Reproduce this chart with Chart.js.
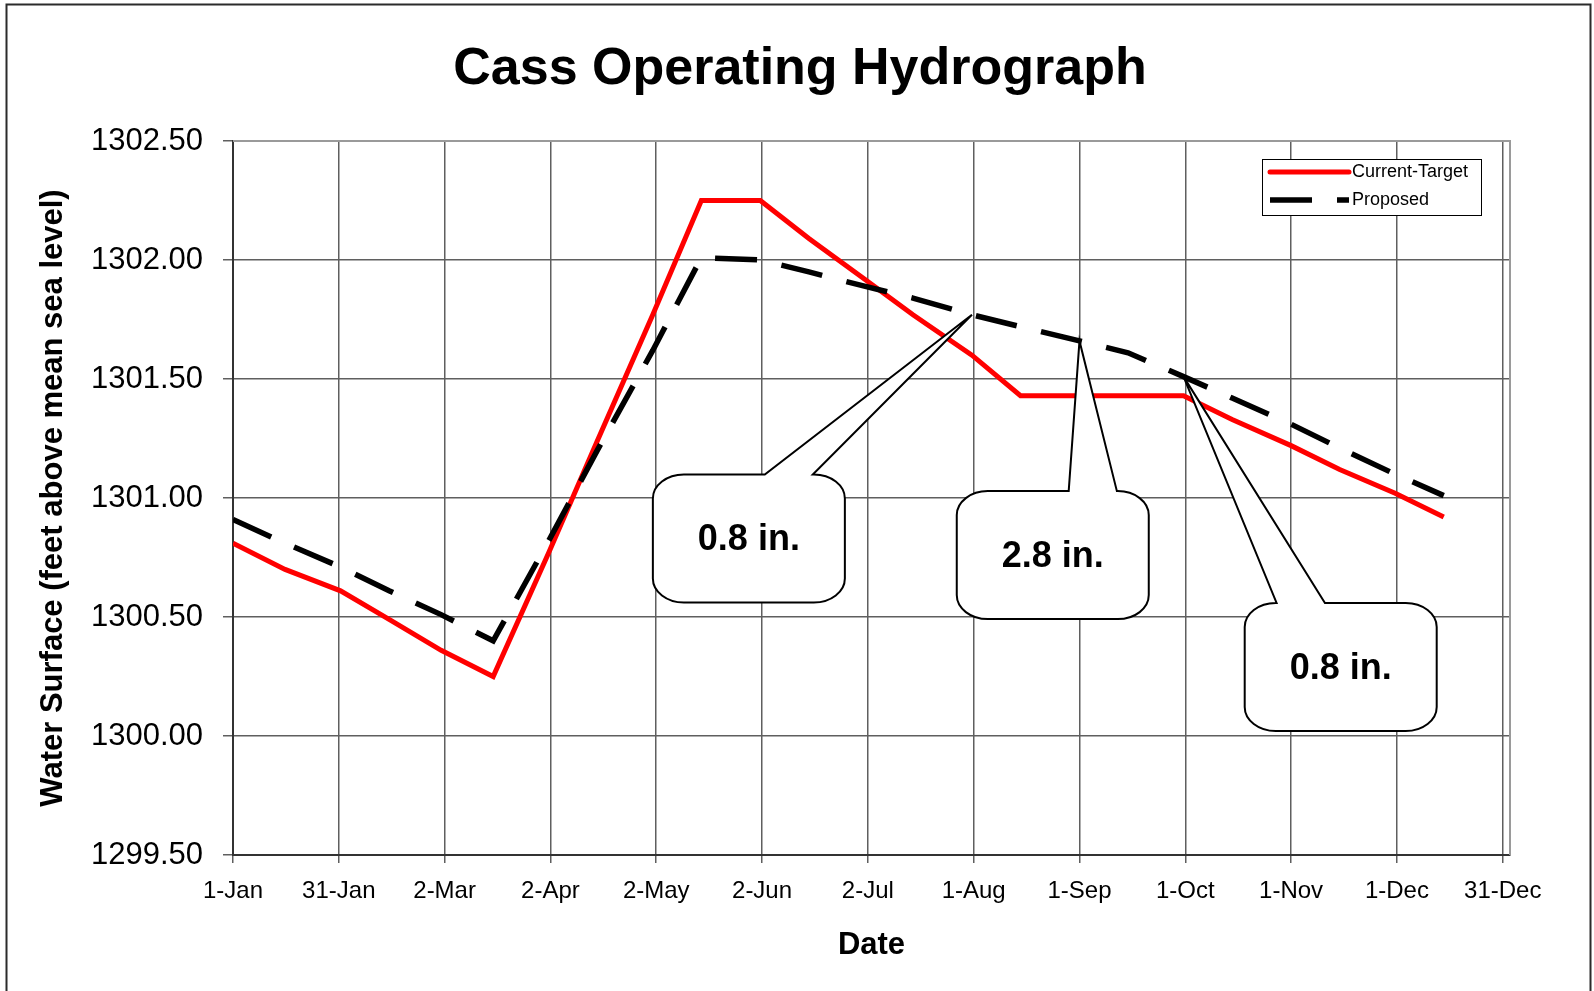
<!DOCTYPE html>
<html>
<head>
<meta charset="utf-8">
<title>Cass Operating Hydrograph</title>
<script src="https://cdn.jsdelivr.net/npm/chart.js@4.4.1/dist/chart.umd.min.js"></script>
<style>
  html, body { margin: 0; padding: 0; background: #fff; }
  canvas { display: block; }
</style>
</head>
<body>
<canvas id="hydrograph" width="1594" height="991"></canvas>
<script>
/**
 * Data
 */
// Semi-monthly dates and their day number counted from 1-Jan
const dates = [
  "1-Jan", "16-Jan", "1-Feb", "15-Feb", "1-Mar", "16-Mar",
  "1-Apr", "15-Apr", "1-May", "15-May", "1-Jun", "15-Jun",
  "1-Jul", "15-Jul", "1-Aug", "15-Aug", "1-Sep", "15-Sep",
  "1-Oct", "15-Oct", "1-Nov", "15-Nov", "1-Dec", "15-Dec",
];
const days = [
  0, 15, 31, 45, 60, 75, 91, 105, 121, 135, 152, 166,
  182, 196, 213, 227, 244, 258, 274, 288, 305, 319, 335, 349,
];

// Water surface elevation (feet above mean sea level)
const currentTarget = [
  1300.81, 1300.70, 1300.61, 1300.49, 1300.36, 1300.25,
  1300.77, 1301.24, 1301.77, 1302.25, 1302.25, 1302.09,
  1301.92, 1301.77, 1301.60, 1301.43, 1301.43, 1301.43,
  1301.43, 1301.33, 1301.22, 1301.12, 1301.02, 1300.92,
];
const proposed = [
  1300.91, 1300.81, 1300.71, 1300.61, 1300.51, 1300.40,
  1300.82, 1301.20, 1301.62, 1302.01, 1302.00, 1301.95,
  1301.89, 1301.84, 1301.77, 1301.72, 1301.66, 1301.61,
  1301.51, 1301.42, 1301.31, 1301.21, 1301.10, 1301.01,
];

// Axis ticks
const xTickLabels = [
  "1-Jan", "31-Jan", "2-Mar", "2-Apr", "2-May", "2-Jun", "2-Jul",
  "1-Aug", "1-Sep", "1-Oct", "1-Nov", "1-Dec", "31-Dec",
];
const xTickStep = 30.5;
const yTicks = [1299.5, 1300.0, 1300.5, 1301.0, 1301.5, 1302.0, 1302.5];

// Callouts pointing at the Proposed curve
const calloutLabels = ["0.8 in.", "2.8 in.", "0.8 in."];
const calloutDates = ["1-Aug", "1-Sep", "1-Oct"];

/**
 * Layout of the callout boxes (box centre in axis units, pointer base as share of width)
 */
const calloutBoxes = [
  { day: 148.7, level: 1300.83, base: [0.583, 0.833] },
  { day: 236.3, level: 1300.76, base: [0.583, 0.834] },
  { day: 319.3, level: 1300.29, base: [0.166, 0.418] },
];

const FONT = "'Liberation Sans', Arial, Helvetica, sans-serif";
const GRID = "#5f5f5f";

// Background, outer frame, title and top/right plot border
const framePlugin = {
  id: "frame",
  beforeDraw(chart) {
    const { ctx, width, height } = chart;
    ctx.save();
    ctx.fillStyle = "#fff";
    ctx.fillRect(0, 0, width, height);
    ctx.strokeStyle = "#2b2b2b";
    ctx.lineWidth = 2;
    ctx.strokeRect(6.5, 4.5, width - 10, height + 20);
    ctx.fillStyle = "#000";
    ctx.font = "bold 52px " + FONT;
    ctx.textAlign = "center";
    ctx.textBaseline = "middle";
    ctx.fillText("Cass Operating Hydrograph", width / 2 + 3, 70);
    ctx.restore();
  },
  beforeDatasetsDraw(chart) {
    const { ctx, chartArea: a } = chart;
    ctx.save();
    ctx.strokeStyle = "#9a9a9a";
    ctx.lineWidth = 2;
    ctx.beginPath();
    ctx.moveTo(a.left, a.top);
    ctx.lineTo(a.right, a.top);
    ctx.lineTo(a.right, a.bottom);
    ctx.stroke();
    ctx.restore();
  },
};

// Legend box in the upper right of the plot
const legendPlugin = {
  id: "boxLegend",
  afterDatasetsDraw(chart) {
    const { ctx, chartArea: a } = chart;
    const sets = chart.data.datasets;
    const left = a.right - 248, top = a.top + 18;
    ctx.save();
    ctx.fillStyle = "#fff";
    ctx.fillRect(left, top, 219, 56);
    ctx.strokeStyle = "#000";
    ctx.lineWidth = 1;
    ctx.strokeRect(left + 0.5, top + 0.5, 219, 56);
    sets.forEach((ds, i) => {
      const yy = top + 13 + i * 28;
      ctx.beginPath();
      ctx.strokeStyle = ds.borderColor;
      ctx.lineWidth = ds.borderWidth;
      ctx.lineCap = ds.borderDash ? "butt" : "round";
      ctx.setLineDash(ds.borderDash || []);
      ctx.moveTo(left + 8, yy);
      ctx.lineTo(left + 87, yy);
      ctx.stroke();
      ctx.setLineDash([]);
      ctx.fillStyle = "#000";
      ctx.font = "18px " + FONT;
      ctx.textAlign = "left";
      ctx.textBaseline = "middle";
      ctx.fillText(ds.label, left + 90, yy);
    });
    ctx.restore();
  },
};

// Speech-bubble callouts
const calloutPlugin = {
  id: "callouts",
  afterDatasetsDraw(chart) {
    const { ctx, scales: { x, y } } = chart;
    const w = 192, h = 128, rx = 31, ry = 24, k = 0.5523;
    ctx.save();
    calloutLabels.forEach((label, n) => {
      const i = dates.indexOf(calloutDates[n]);
      const box = calloutBoxes[n];
      const tx = x.getPixelForValue(days[i]);
      const ty = y.getPixelForValue(proposed[i]);
      const cx = x.getPixelForValue(box.day);
      const cy = y.getPixelForValue(box.level);
      const l = cx - w / 2, r = cx + w / 2, t = cy - h / 2, b = cy + h / 2;
      ctx.beginPath();
      ctx.moveTo(l + rx, t);
      ctx.lineTo(l + w * box.base[0], t);
      ctx.lineTo(tx, ty);
      ctx.lineTo(l + w * box.base[1], t);
      ctx.lineTo(r - rx, t);
      ctx.bezierCurveTo(r - rx + rx * k, t, r, t + ry - ry * k, r, t + ry);
      ctx.lineTo(r, b - ry);
      ctx.bezierCurveTo(r, b - ry + ry * k, r - rx + rx * k, b, r - rx, b);
      ctx.lineTo(l + rx, b);
      ctx.bezierCurveTo(l + rx - rx * k, b, l, b - ry + ry * k, l, b - ry);
      ctx.lineTo(l, t + ry);
      ctx.bezierCurveTo(l, t + ry - ry * k, l + rx - rx * k, t, l + rx, t);
      ctx.closePath();
      ctx.fillStyle = "#fff";
      ctx.fill();
      ctx.strokeStyle = "#000";
      ctx.lineWidth = 2;
      ctx.stroke();
      ctx.fillStyle = "#000";
      ctx.font = "bold 36px " + FONT;
      ctx.textAlign = "center";
      ctx.textBaseline = "middle";
      ctx.fillText(label, cx, cy + 2);
    });
    ctx.restore();
  },
};

/**
 * Chart
 */
const toPoints = (values) => days.map((d, i) => ({ x: d, y: values[i] }));

new Chart(document.getElementById("hydrograph"), {
  type: "line",
  data: {
    datasets: [
      {
        label: "Current-Target",
        data: toPoints(currentTarget),
        borderColor: "#ff0000",
        borderWidth: 5,
        borderJoinStyle: "miter",
        pointRadius: 0,
        tension: 0,
        order: 1,
      },
      {
        label: "Proposed",
        data: toPoints(proposed),
        borderColor: "#000000",
        borderWidth: 5.5,
        borderDash: [42, 25],
        borderCapStyle: "butt",
        borderJoinStyle: "miter",
        pointRadius: 0,
        tension: 0,
        order: 0,
      },
    ],
  },
  options: {
    responsive: false,
    animation: false,
    devicePixelRatio: 1,
    layout: { padding: { top: 141, right: 84, bottom: 0, left: 0 } },
    plugins: {
      legend: { display: false },
      title: { display: false },
      tooltip: { enabled: false },
    },
    scales: {
      x: {
        type: "linear",
        min: 0,
        max: 368.1,
        afterBuildTicks: (s) => {
          s.ticks = xTickLabels.map((_, i) => ({ value: i * xTickStep }));
        },
        afterFit: (s) => { s.height = 136; },
        ticks: {
          autoSkip: false,
          maxRotation: 0,
          padding: 14,
          color: "#000",
          font: { family: FONT, size: 24 },
          callback: (v, i) => xTickLabels[i],
        },
        grid: { color: GRID, lineWidth: 1.5, tickLength: 8 },
        border: { color: "#333", width: 2 },
        title: {
          display: true,
          text: "Date",
          color: "#000",
          font: { family: FONT, size: 31, weight: "bold" },
          padding: { top: 0, bottom: 27 },
        },
      },
      y: {
        min: 1299.5,
        max: 1302.5,
        afterBuildTicks: (s) => {
          s.ticks = yTicks.map((v) => ({ value: v }));
        },
        afterFit: (s) => { s.width = 233; },
        ticks: {
          padding: 20,
          color: "#000",
          font: { family: FONT, size: 31 },
          callback: (v) => Number(v).toFixed(2),
        },
        grid: { color: GRID, lineWidth: 1.5, tickLength: 10 },
        border: { color: "#333", width: 2 },
        title: {
          display: true,
          text: "Water Surface (feet above mean sea level)",
          color: "#000",
          font: { family: FONT, size: 31, weight: "bold" },
          padding: { top: 35, bottom: 0 },
        },
      },
    },
  },
  plugins: [framePlugin, legendPlugin, calloutPlugin],
});
</script>
</body>
</html>
